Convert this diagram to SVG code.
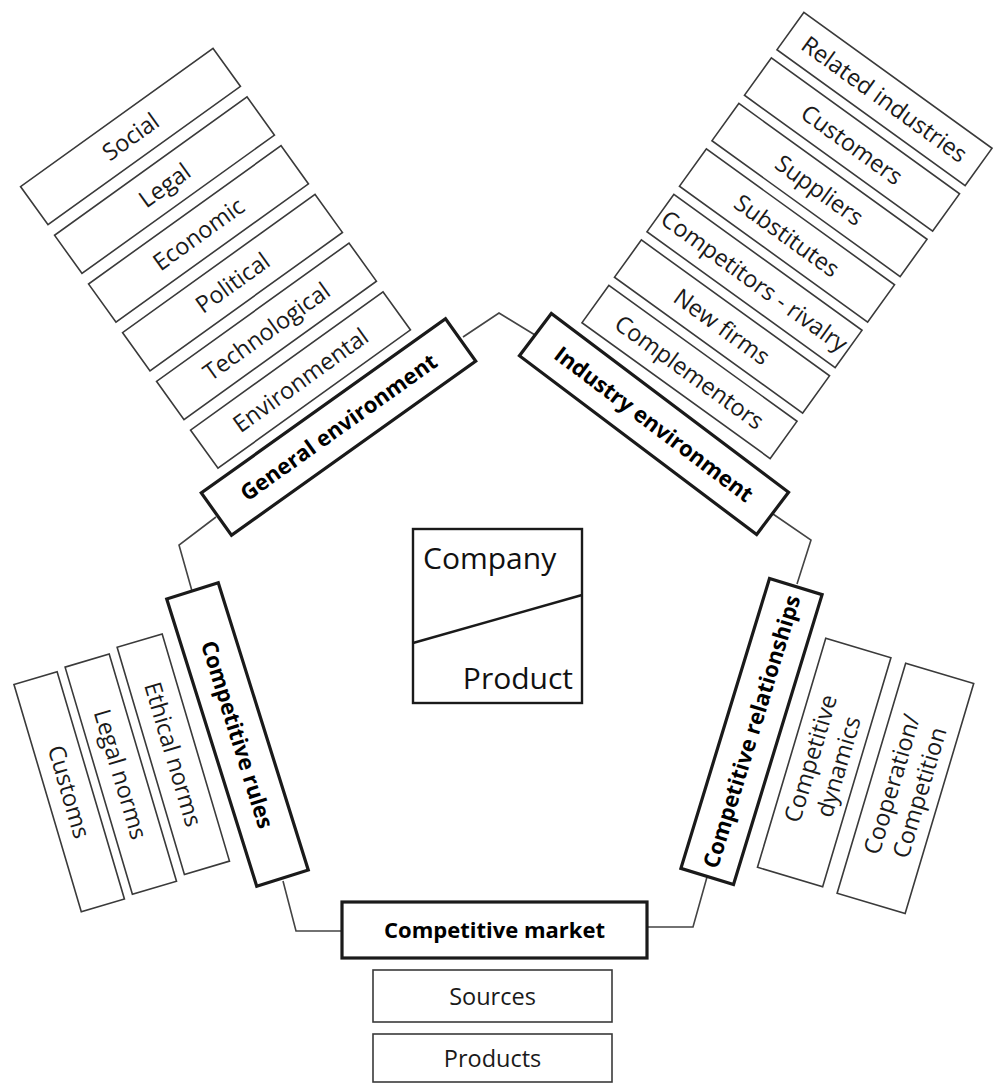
<svg xmlns="http://www.w3.org/2000/svg" width="996" height="1084" viewBox="0 0 996 1084">
<style>
.sub{fill:#fff;stroke:#3a3a3a;stroke-width:1.6}
.main{fill:#fff;stroke:#1a1a1a;stroke-width:3.2}
.conn{fill:none;stroke:#444;stroke-width:1.6}
.t{font-family:"Open Sans","Liberation Sans",sans-serif;font-size:23.5px;fill:#1a1a1a;text-anchor:middle}
.tb{font-family:"Open Sans","Liberation Sans",sans-serif;font-size:22px;font-weight:bold;fill:#000;text-anchor:middle}
.tc{font-family:"Open Sans","Liberation Sans",sans-serif;font-size:30px;fill:#111}
</style>
<rect width="996" height="1084" fill="#fff"/>
<g id="connectors">
<polyline class="conn" points="463,337 499,313 535,335"/>
<polyline class="conn" points="216,517 179,545 192,591"/>
<polyline class="conn" points="283,881 296,931 342,931"/>
<polyline class="conn" points="647,927 693,927 707,877"/>
<polyline class="conn" points="773,514 811,540 797,584"/>
</g>
<g id="company-product">
<rect x="413" y="529" width="169" height="174" fill="#fff" stroke="#1a1a1a" stroke-width="2.4"/>
<line x1="413" y1="643" x2="582" y2="595" stroke="#1a1a1a" stroke-width="2.4"/>
<text class="tc" x="423" y="569">Company</text>
<text class="tc" x="573" y="689" text-anchor="end">Product</text>
</g>
<g id="general-environment" transform="translate(338.5,427) rotate(-35.5)">
<rect class="main" x="-150" y="-26" width="300" height="52"/>
<text class="tb" x="0" y="8">General environment</text>
</g>
<g id="social" transform="translate(130.5,136.5) rotate(-35.7)"><rect class="sub" x="-118.5" y="-23.5" width="237" height="47"/><text class="t" x="0" y="8.5">Social</text></g>
<g id="legal" transform="translate(164.5,185.2) rotate(-35.7)"><rect class="sub" x="-118.5" y="-23.5" width="237" height="47"/><text class="t" x="0" y="8.5">Legal</text></g>
<g id="economic" transform="translate(198.5,233.9) rotate(-35.7)"><rect class="sub" x="-118.5" y="-23.5" width="237" height="47"/><text class="t" x="0" y="8.5">Economic</text></g>
<g id="political" transform="translate(232.5,282.6) rotate(-35.7)"><rect class="sub" x="-118.5" y="-23.5" width="237" height="47"/><text class="t" x="0" y="8.5">Political</text></g>
<g id="technological" transform="translate(266.5,331.3) rotate(-35.7)"><rect class="sub" x="-118.5" y="-23.5" width="237" height="47"/><text class="t" x="0" y="8.5">Technological</text></g>
<g id="environmental" transform="translate(300.5,380) rotate(-35.7)"><rect class="sub" x="-118.5" y="-23.5" width="237" height="47"/><text class="t" x="0" y="8.5">Environmental</text></g>
<g id="industry-environment" transform="translate(654,424) rotate(37)">
<rect class="main" x="-148.5" y="-26.5" width="297" height="53"/>
<text class="tb" x="0" y="8">Industry environment</text>
</g>
<g id="related-industries" transform="translate(884.5,99) rotate(35.8)"><rect class="sub" x="-116" y="-23" width="232" height="46"/><text class="t" x="0" y="8.5">Related industries</text></g>
<g id="customers" transform="translate(852,144.5) rotate(35.8)"><rect class="sub" x="-116" y="-23" width="232" height="46"/><text class="t" x="0" y="8.5">Customers</text></g>
<g id="suppliers" transform="translate(819.5,190) rotate(35.8)"><rect class="sub" x="-116" y="-23" width="232" height="46"/><text class="t" x="0" y="8.5">Suppliers</text></g>
<g id="substitutes" transform="translate(787,235.5) rotate(35.8)"><rect class="sub" x="-116" y="-23" width="232" height="46"/><text class="t" x="0" y="8.5">Substitutes</text></g>
<g id="competitors-rivalry" transform="translate(754.5,281) rotate(35.8)"><rect class="sub" x="-116" y="-23" width="232" height="46"/><text class="t" x="0" y="8.5">Competitors - rivalry</text></g>
<g id="new-firms" transform="translate(722,326.5) rotate(35.8)"><rect class="sub" x="-116" y="-23" width="232" height="46"/><text class="t" x="0" y="8.5">New firms</text></g>
<g id="complementors" transform="translate(689.5,372) rotate(35.8)"><rect class="sub" x="-116" y="-23" width="232" height="46"/><text class="t" x="0" y="8.5">Complementors</text></g>
<g id="competitive-rules" transform="translate(237.5,734.5) rotate(72.6)">
<rect class="main" x="-150.5" y="-27" width="301" height="54"/>
<text class="tb" x="0" y="8">Competitive rules</text>
</g>
<g id="ethical-norms" transform="translate(173.3,754.2) rotate(73.5)"><rect class="sub" x="-118.5" y="-23.5" width="237" height="47"/><text class="t" x="0" y="8.5">Ethical norms</text></g>
<g id="legal-norms" transform="translate(120.8,774.2) rotate(73.5)"><rect class="sub" x="-118.5" y="-23" width="237" height="46"/><text class="t" x="0" y="8.5">Legal norms</text></g>
<g id="customs" transform="translate(69.2,791.7) rotate(73.5)"><rect class="sub" x="-118.5" y="-22.5" width="237" height="45"/><text class="t" x="0" y="8.5">Customs</text></g>
<g id="competitive-relationships" transform="translate(751.5,731.5) rotate(-73)">
<rect class="main" x="-151.5" y="-27.5" width="303" height="55"/>
<text class="tb" x="0" y="8">Competitive relationships</text>
</g>
<g id="competitive-dynamics" transform="translate(824.2,762.5) rotate(-73.4)"><rect class="sub" x="-119.5" y="-34" width="239" height="68"/><text class="t" x="0" y="-6">Competitive</text><text class="t" x="0" y="23">dynamics</text></g>
<g id="cooperation-competition" transform="translate(905.4,788.4) rotate(-73.4)"><rect class="sub" x="-120" y="-35.5" width="240" height="71"/><text class="t" x="0" y="-6">Cooperation/</text><text class="t" x="0" y="23">Competition</text></g>
<g id="competitive-market">
<rect class="main" x="342" y="902" width="305" height="56"/>
<text class="tb" x="494.5" y="938">Competitive market</text>
</g>
<g id="sources"><rect class="sub" x="373" y="970" width="239" height="52"/><text class="t" x="492.5" y="1004.5">Sources</text></g>
<g id="products"><rect class="sub" x="373" y="1034" width="239" height="48"/><text class="t" x="492.5" y="1067">Products</text></g>
</svg>
